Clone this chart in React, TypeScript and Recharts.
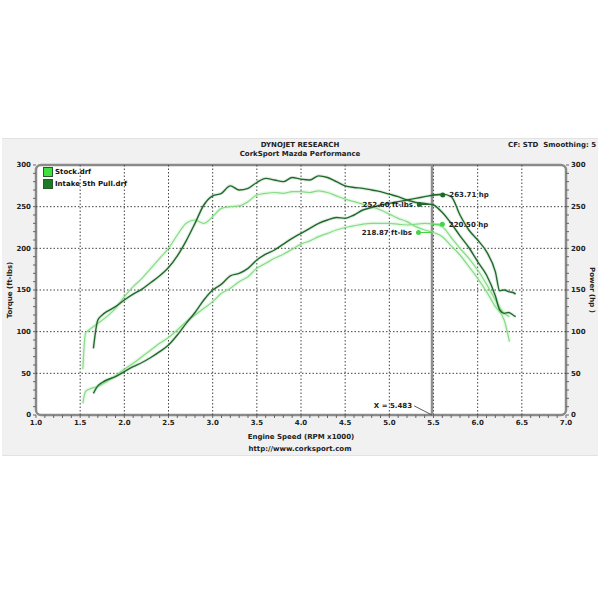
import React from 'react';
import {
  ComposedChart,
  Line,
  XAxis,
  YAxis,
  ReferenceLine,
  ReferenceDot,
  ReferenceArea,
  Legend,
} from 'recharts';

// ---- data ----
const stockRpm = [1.53, 1.56, 1.6, 1.7, 1.8, 1.9, 2.0, 2.1, 2.2, 2.3, 2.4, 2.5, 2.6, 2.7, 2.8, 2.9, 3.0, 3.1, 3.2, 3.3, 3.4, 3.5, 3.6, 3.7, 3.8, 3.9, 4.0, 4.1, 4.2, 4.3, 4.4, 4.5, 4.6, 4.7, 4.8, 4.9, 5.0, 5.1, 5.2, 5.3, 5.4, 5.5, 5.6, 5.7, 5.8, 5.9, 6.0, 6.1, 6.2, 6.3, 6.36];
const stockTorque = [55, 98, 102, 110, 118, 128, 142, 154, 164, 176, 188, 200, 216, 230, 234, 230, 238, 248, 250, 251, 256, 264, 266, 267, 266, 268, 268, 267, 269, 267, 263, 259, 256, 253, 250, 246, 241, 236, 232, 226, 222, 219, 214, 203, 192, 178, 164, 148, 130, 114, 88];
const stockHp = [14, 28, 31, 34, 40, 47, 55, 62, 70, 78, 86, 93, 102, 112, 120, 128, 136, 146, 152, 160, 166, 176, 182, 188, 193, 199, 205, 209, 214, 218, 222, 225, 227, 229, 230, 230, 230, 229, 228, 229, 230, 229, 226, 213, 200, 188, 174, 157, 138, 122, 118];

const intakeRpm = [1.65, 1.7, 1.75, 1.8, 1.9, 2.0, 2.1, 2.2, 2.3, 2.4, 2.5, 2.6, 2.7, 2.8, 2.9, 3.0, 3.1, 3.2, 3.3, 3.4, 3.5, 3.6, 3.7, 3.8, 3.9, 4.0, 4.1, 4.2, 4.3, 4.4, 4.5, 4.6, 4.7, 4.8, 4.9, 5.0, 5.1, 5.2, 5.3, 5.4, 5.5, 5.6, 5.7, 5.8, 5.9, 6.0, 6.1, 6.2, 6.25, 6.3, 6.35, 6.4, 6.43];
const intakeTorque = [80, 114, 120, 124, 130, 138, 145, 151, 159, 167, 177, 191, 209, 230, 252, 263, 266, 275, 270, 272, 279, 284, 282, 280, 285, 283, 282, 287, 285, 280, 275, 273, 272, 270, 268, 265, 262, 258, 255, 254, 252, 243, 230, 215, 201, 184, 168, 143, 126, 122, 123, 120, 118];
const intakeHp = [26, 35, 39, 42, 46, 52, 58, 63, 69, 76, 84, 96, 110, 123, 138, 150, 157, 167, 170, 176, 186, 193, 198, 205, 212, 218, 224, 230, 234, 237, 236, 240, 246, 249, 252, 254, 256, 258, 260, 262, 264, 265, 262, 240, 222, 210, 196, 172, 149, 150, 148, 147, 145];

const seriesNames = ['Stock.drf', 'Intake 5th Pull.drf'];
const seriesColors = ['#86dc86', '#1f6a2b'];
const swatchColors = ['#3fe03f', '#1d7a26'];

const xGridValues = [1.5, 2.0, 2.5, 3.0, 3.5, 4.0, 4.5, 5.0, 5.5, 6.0, 6.5];
const yGridValues = [50, 100, 150, 200, 250];

const cursorX = 5.483;
const cursorLabel = 'X = 5.483';
const markers = [
  { x: 5.605, y: 264, axis: 'right', text: '263.71 hp', color: '#1f6a2b', side: 'right' },
  { x: 5.34, y: 252.6, axis: 'left', text: '252.60 ft-lbs', color: '#1f6a2b', side: 'left' },
  { x: 5.6, y: 229, axis: 'right', text: '220.50 hp', color: '#45d445', side: 'right' },
  { x: 5.33, y: 219, axis: 'left', text: '218.87 ft-lbs', color: '#45d445', side: 'left' },
];

// minor tick positions
const xMinorTicks: number[] = [];
for (let i = 10; i <= 70; i++) xMinorTicks.push(i / 10);
const yMinorTicks: number[] = [];
for (let i = 0; i <= 30; i++) yMinorTicks.push(i * 10);

const toPts = (xs: number[], ys: number[]) => xs.map((x, i) => ({ x, v: ys[i] }));
const stockTorqueData = toPts(stockRpm, stockTorque);
const stockHpData = toPts(stockRpm, stockHp);
const intakeTorqueData = toPts(intakeRpm, intakeTorque);
const intakeHpData = toPts(intakeRpm, intakeHp);

const FONT = '"DejaVu Sans", Verdana, sans-serif';
const FS = 7;
const tickStyle = { fontSize: FS, fontWeight: 700, fill: '#222', fontFamily: FONT };
const labelStyle = { fontSize: FS, fontWeight: 700, fill: '#222', fontFamily: FONT };

const LegendBox = () => (
  <div style={{ fontFamily: FONT, fontSize: FS, fontWeight: 700, color: '#111' }}>
    {seriesNames.map((n, i) => (
      <div key={n} style={{ display: 'flex', alignItems: 'center', height: 12 }}>
        <span
          style={{
            display: 'inline-block',
            width: 8,
            height: 8,
            background: swatchColors[i],
            border: '1px solid #2a5a2a',
            marginRight: 2,
          }}
        />
        <span>{n}</span>
      </div>
    ))}
  </div>
);

const textBase: React.CSSProperties = {
  position: 'absolute',
  fontFamily: FONT,
  fontSize: FS,
  fontWeight: 700,
  color: '#222',
  whiteSpace: 'nowrap',
  lineHeight: '9px',
};

export default function App() {
  return (
    <div style={{ position: 'absolute', left: 0, top: 0, width: 600, height: 600, background: '#fff' }}>
      <div
        style={{
          position: 'absolute',
          left: 2,
          top: 138,
          width: 596,
          height: 316,
          background: '#f1f1f1',
          borderTop: '1px solid #e2e2e2',
          borderBottom: '1px solid #e2e2e2',
        }}
      />
      <div style={{ ...textBase, left: 0, width: 600, top: 141, textAlign: 'center' }}>DYNOJET RESEARCH</div>
      <div style={{ ...textBase, left: 0, width: 600, top: 150, textAlign: 'center' }}>CorkSport Mazda Performance</div>
      <div style={{ ...textBase, left: 508, top: 141 }}>CF: STD&nbsp;&nbsp;Smoothing: 5</div>
      <div style={{ ...textBase, left: 0, width: 600, top: 445, textAlign: 'center' }}>http://www.corksport.com</div>

      <div style={{ position: 'absolute', left: 0, top: 0 }}>
        <ComposedChart width={600} height={600} margin={{ top: 165, right: 4, bottom: 155, left: 6 }}>
          <XAxis
            xAxisId="x"
            type="number"
            dataKey="x"
            domain={[1, 7]}
            ticks={xMinorTicks}
            interval={0}
            tickFormatter={(v: number) => (Math.round(v * 10) % 5 === 0 ? v.toFixed(1) : '')}
            tick={tickStyle}
            tickSize={3}
            tickMargin={2}
            tickLine={{ stroke: '#666' }}
            axisLine={false}
            height={30}
            label={{
              value: 'Engine Speed (RPM x1000)',
              position: 'insideBottom',
              offset: 6,
              style: labelStyle,
            }}
          />
          <YAxis
            yAxisId="left"
            type="number"
            domain={[0, 300]}
            ticks={yMinorTicks}
            interval={0}
            tickFormatter={(v: number) => (v % 50 === 0 ? String(v) : '')}
            tick={tickStyle}
            tickSize={3}
            tickMargin={2}
            tickLine={{ stroke: '#666' }}
            axisLine={false}
            width={30}
            label={{
              value: 'Torque (ft-lbs)',
              angle: -90,
              position: 'insideLeft',
              offset: 4,
              style: { ...labelStyle, textAnchor: 'middle' },
            }}
          />
          <YAxis
            yAxisId="right"
            orientation="right"
            type="number"
            domain={[0, 300]}
            ticks={yMinorTicks}
            interval={0}
            tickFormatter={(v: number) => (v % 50 === 0 ? String(v) : '')}
            tick={tickStyle}
            tickSize={3}
            tickMargin={2}
            tickLine={{ stroke: '#666' }}
            axisLine={false}
            width={30}
            label={{
              value: 'Power (hp )',
              angle: 90,
              position: 'insideRight',
              offset: 4,
              style: { ...labelStyle, textAnchor: 'middle' },
            }}
          />

          <ReferenceArea xAxisId="x" yAxisId="left" x1={1} x2={7} y1={0} y2={300} fill="#ffffff" fillOpacity={1} stroke="none" />

          {xGridValues.map((v) => (
            <ReferenceLine key={'gx' + v} xAxisId="x" yAxisId="left" x={v} stroke="#444" strokeDasharray="1.5 2" strokeWidth={1} />
          ))}
          {yGridValues.map((v) => (
            <ReferenceLine key={'gy' + v} xAxisId="x" yAxisId="left" y={v} stroke="#444" strokeDasharray="1.5 2" strokeWidth={1} />
          ))}

          <ReferenceLine xAxisId="x" yAxisId="left" x={cursorX} stroke="#8f8f8f" strokeWidth={2.5} />

          {/* glow */}
          <Line xAxisId="x" yAxisId="left" data={stockTorqueData} dataKey="v" type="monotone" stroke={seriesColors[0]} strokeOpacity={0.18} strokeWidth={4} dot={false} isAnimationActive={false} legendType="none" />
          <Line xAxisId="x" yAxisId="right" data={stockHpData} dataKey="v" type="monotone" stroke={seriesColors[0]} strokeOpacity={0.18} strokeWidth={4} dot={false} isAnimationActive={false} legendType="none" />
          <Line xAxisId="x" yAxisId="left" data={intakeTorqueData} dataKey="v" type="monotone" stroke={seriesColors[1]} strokeOpacity={0.12} strokeWidth={3.5} dot={false} isAnimationActive={false} legendType="none" />
          <Line xAxisId="x" yAxisId="right" data={intakeHpData} dataKey="v" type="monotone" stroke={seriesColors[1]} strokeOpacity={0.12} strokeWidth={3.5} dot={false} isAnimationActive={false} legendType="none" />

          <Line xAxisId="x" yAxisId="left" data={stockTorqueData} dataKey="v" name={seriesNames[0]} type="monotone" stroke={seriesColors[0]} strokeWidth={1.2} dot={false} isAnimationActive={false} />
          <Line xAxisId="x" yAxisId="right" data={stockHpData} dataKey="v" type="monotone" stroke={seriesColors[0]} strokeWidth={1.2} dot={false} isAnimationActive={false} legendType="none" />
          <Line xAxisId="x" yAxisId="left" data={intakeTorqueData} dataKey="v" name={seriesNames[1]} type="monotone" stroke={seriesColors[1]} strokeWidth={1.4} dot={false} isAnimationActive={false} />
          <Line xAxisId="x" yAxisId="right" data={intakeHpData} dataKey="v" type="monotone" stroke={seriesColors[1]} strokeWidth={1.4} dot={false} isAnimationActive={false} legendType="none" />

          {markers.map((m) => (
            <ReferenceLine
              key={'seg' + m.text}
              xAxisId="x"
              yAxisId={m.axis}
              segment={[{ x: m.x, y: m.y }, { x: cursorX, y: m.y }]}
              stroke={m.color}
              strokeWidth={1}
            />
          ))}
          {markers.map((m) => (
            <ReferenceDot
              key={'dot' + m.text}
              xAxisId="x"
              yAxisId={m.axis}
              x={m.x}
              y={m.y}
              r={2.5}
              fill={m.color}
              stroke="none"
              label={{
                value: m.text,
                position: m.side,
                offset: 4,
                style: labelStyle,
              }}
            />
          ))}

          <ReferenceLine
            xAxisId="x"
            yAxisId="left"
            segment={[{ x: 5.28, y: 11 }, { x: cursorX, y: 0 }]}
            stroke="#333"
            strokeWidth={0.8}
          />
          <ReferenceDot
            xAxisId="x"
            yAxisId="left"
            x={5.27}
            y={11}
            r={0.1}
            fill="none"
            stroke="none"
            label={{
              value: cursorLabel,
              position: 'left',
              offset: 1,
              style: labelStyle,
            }}
          />

          <ReferenceArea
            xAxisId="x"
            yAxisId="left"
            x1={1}
            x2={7}
            y1={0}
            y2={300}
            fill="none"
            stroke="#8a8a8a"
            strokeWidth={2.5}
            radius={5}
          />

          <Legend
            layout="vertical"
            align="center"
            verticalAlign="middle"
            content={<LegendBox />}
            wrapperStyle={{ top: 166, left: 43, width: 'auto', height: 'auto' }}
          />
        </ComposedChart>
      </div>
    </div>
  );
}
